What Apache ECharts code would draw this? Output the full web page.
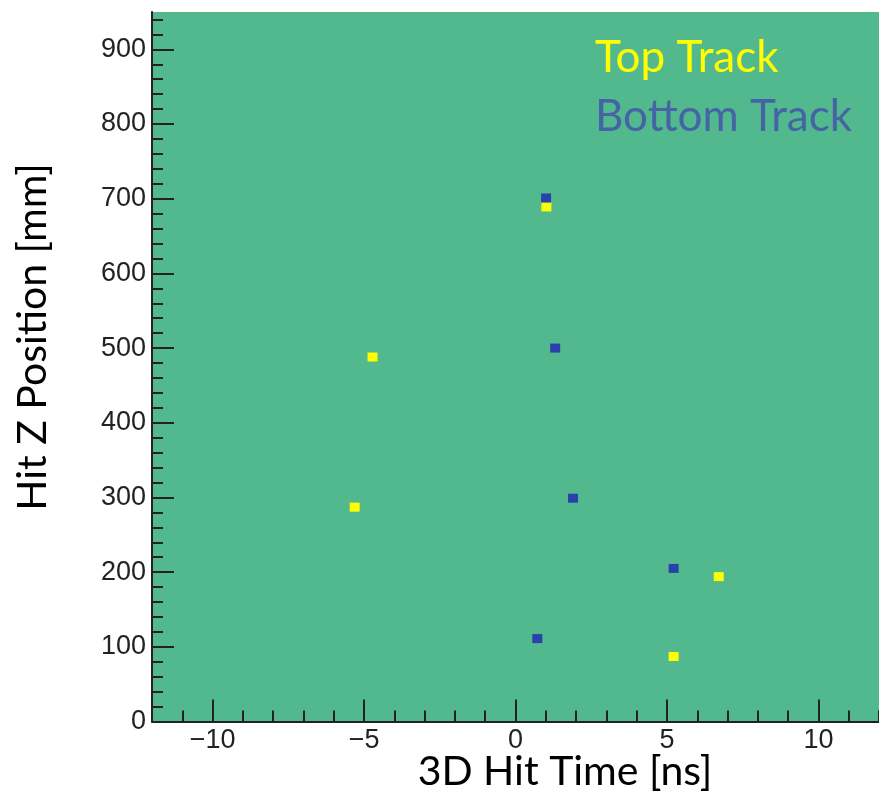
<!DOCTYPE html>
<html>
<head>
<meta charset="utf-8">
<script src="https://cdn.jsdelivr.net/npm/echarts@6/dist/echarts.min.js"></script>
<style>html,body{margin:0;padding:0;background:#fff;}#c{width:879px;height:796px;}</style>
</head>
<body>
<div id="c"></div>
<script>
// ---- data ----
const seriesNames = ['Top Track', 'Bottom Track'];
const topTrack = [[1.02, 689], [-4.72, 488], [-5.31, 287], [6.71, 194], [5.22, 87]];
const bottomTrack = [[1.01, 701], [1.31, 500], [1.90, 299], [5.22, 205], [0.72, 111]];
const xMajorTicks = [-10, -5, 0, 5, 10];
const xMinorTicks = [-12, -11, -9, -8, -7, -6, -4, -3, -2, -1, 1, 2, 3, 4, 6, 7, 8, 9, 11, 12];
const yMajorTicks = [0, 100, 200, 300, 400, 500, 600, 700, 800, 900];
const yMinorTicks = [20, 40, 60, 80, 120, 140, 160, 180, 220, 240, 260, 280, 320, 340, 360, 380,
  420, 440, 460, 480, 520, 540, 560, 580, 620, 640, 660, 680, 720, 740, 760, 780,
  820, 840, 860, 880, 920, 940];
const xTitle = '3D Hit Time [ns]';
const yTitle = 'Hit Z Position [mm]';

// ---- chart ----
const ink = '#222';
const tickFont = 'Liberation Sans';
const titleFont = 'Lato';
const xRange = { min: -12, max: 12 };
const yRange = { min: 0, max: 950 };

function majorAxis(range, ticks, fmt) {
  return {
    type: 'value', min: range.min, max: range.max,
    axisLine: { show: true, onZero: false, lineStyle: { color: ink, width: 2 } },
    axisTick: { show: true, inside: true, length: 22, customValues: ticks, lineStyle: { color: ink, width: 2 } },
    axisLabel: { customValues: ticks, formatter: fmt, fontFamily: tickFont, fontSize: 27, color: ink, margin: 6 },
    splitLine: { show: false }
  };
}
function minorAxis(range, ticks) {
  return {
    type: 'value', min: range.min, max: range.max,
    axisLine: { show: false, onZero: false },
    axisTick: { show: true, inside: true, length: 11, customValues: ticks, lineStyle: { color: ink, width: 2 } },
    axisLabel: { show: false },
    splitLine: { show: false }
  };
}
const minusFmt = v => String(v).replace('-', '\u2212');

const chart = echarts.init(document.getElementById('c'), null, { renderer: 'canvas' });
chart.setOption({
  animation: false,
  backgroundColor: '#ffffff',
  grid: { left: 152, right: -5, top: 12, bottom: 74.5, show: true, backgroundColor: '#52b98f', borderWidth: 0 },
  xAxis: [
    Object.assign(majorAxis(xRange, xMajorTicks, minusFmt), { position: 'bottom' }),
    Object.assign(minorAxis(xRange, xMinorTicks), { position: 'bottom' })
  ],
  yAxis: [
    Object.assign(majorAxis(yRange, yMajorTicks, v => String(v)), { position: 'left' }),
    Object.assign(minorAxis(yRange, yMinorTicks), { position: 'left' })
  ],
  legend: {
    orient: 'vertical', left: 585, top: 31, icon: 'none', itemWidth: 0, itemGap: 15,
    selectedMode: false,
    textStyle: { fontFamily: titleFont, fontSize: 44 },
    data: [
      { name: seriesNames[0], textStyle: { color: '#ffff00' } },
      { name: seriesNames[1], textStyle: { color: '#4563a5' } }
    ]
  },
  graphic: [
    { type: 'text', x: 565, y: 772, style: { text: xTitle, fontFamily: titleFont, fontSize: 41, fill: '#000', align: 'center', verticalAlign: 'middle' } },
    { type: 'text', x: 33, y: 337, rotation: Math.PI / 2, style: { text: yTitle, fontFamily: titleFont, fontSize: 41, fill: '#000', align: 'center', verticalAlign: 'middle' } }
  ],
  series: [
    { name: seriesNames[0], type: 'scatter', xAxisIndex: 0, yAxisIndex: 0, symbol: 'rect', symbolSize: [10, 9],
      itemStyle: { color: '#ffff00', opacity: 1 }, data: topTrack },
    { name: seriesNames[1], type: 'scatter', xAxisIndex: 0, yAxisIndex: 0, symbol: 'rect', symbolSize: [10, 9],
      itemStyle: { color: '#2a40ad', opacity: 1 }, data: bottomTrack }
  ]
});
</script>
</body>
</html>
